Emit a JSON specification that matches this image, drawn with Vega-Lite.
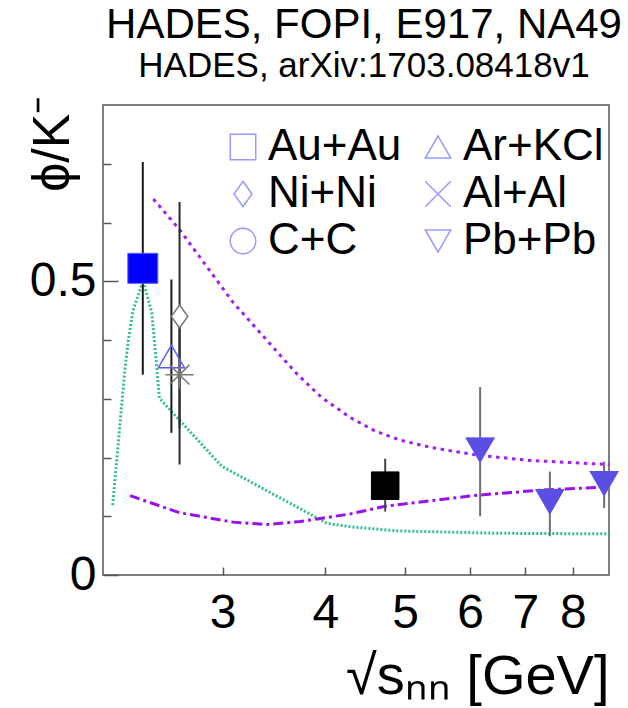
{
  "$schema": "https://vega.github.io/schema/vega-lite/v6.json",
  "width": 506,
  "height": 470,
  "autosize": {"type": "none"},
  "padding": {"left": 103, "top": 105, "right": 19, "bottom": 133},
  "background": "white",
  "config": {"font": "Liberation Sans", "view": {"stroke": "#555555", "strokeWidth": 1.5}},
  "title": {
    "text": "HADES, FOPI, E917, NA49",
    "subtitle": "HADES, arXiv:1703.08418v1",
    "fontSize": 42,
    "subtitleFontSize": 35,
    "font": "Liberation Sans",
    "subtitleFont": "Liberation Sans",
    "fontWeight": "normal",
    "color": "#000000",
    "subtitleColor": "#000000",
    "anchor": "middle",
    "frame": "group",
    "offset": 10,
    "subtitlePadding": 2,
    "dx": 8
  },
  "datasets": {
    "points": [
      {"series": "HADES Au+Au", "experiment": "HADES", "system": "Au+Au", "x": 2.40, "y": 0.522, "lo": 0.341, "hi": 0.703},
      {"series": "HADES Ar+KCl", "experiment": "HADES", "system": "Ar+KCl", "x": 2.60, "y": 0.372, "lo": 0.242, "hi": 0.503},
      {"series": "FOPI Ni+Ni", "experiment": "FOPI", "system": "Ni+Ni", "x": 2.66, "y": 0.44, "lo": 0.188, "hi": 0.635},
      {"series": "FOPI Al+Al", "experiment": "FOPI", "system": "Al+Al", "x": 2.66, "y": 0.341, "lo": 0.25, "hi": 0.43},
      {"series": "E917 Au+Au", "experiment": "E917", "system": "Au+Au", "x": 4.73, "y": 0.152, "lo": 0.108, "hi": 0.198},
      {"series": "NA49 Pb+Pb", "experiment": "NA49", "system": "Pb+Pb", "x": 6.17, "y": 0.213, "lo": 0.10, "hi": 0.32},
      {"series": "NA49 Pb+Pb", "experiment": "NA49", "system": "Pb+Pb", "x": 7.5, "y": 0.125, "lo": 0.066, "hi": 0.176},
      {"series": "NA49 Pb+Pb", "experiment": "NA49", "system": "Pb+Pb", "x": 8.73, "y": 0.156, "lo": 0.114, "hi": 0.193}
    ],
    "curves": [
      {"curve": "model 1", "x": 2.206, "y": 0.119},
      {"curve": "model 1", "x": 2.283, "y": 0.35},
      {"curve": "model 1", "x": 2.305, "y": 0.40},
      {"curve": "model 1", "x": 2.335, "y": 0.45},
      {"curve": "model 1", "x": 2.402, "y": 0.501},
      {"curve": "model 1", "x": 2.461, "y": 0.447},
      {"curve": "model 1", "x": 2.495, "y": 0.355},
      {"curve": "model 1", "x": 2.514, "y": 0.301},
      {"curve": "model 1", "x": 2.994, "y": 0.185},
      {"curve": "model 1", "x": 4.02, "y": 0.088},
      {"curve": "model 1", "x": 4.29, "y": 0.082},
      {"curve": "model 1", "x": 4.91, "y": 0.075},
      {"curve": "model 1", "x": 6.5, "y": 0.071},
      {"curve": "model 1", "x": 8.85, "y": 0.070},
      {"curve": "model 2", "x": 2.472, "y": 0.640},
      {"curve": "model 2", "x": 2.66, "y": 0.588},
      {"curve": "model 2", "x": 3.09, "y": 0.464},
      {"curve": "model 2", "x": 3.69, "y": 0.343},
      {"curve": "model 2", "x": 3.96, "y": 0.302},
      {"curve": "model 2", "x": 4.29, "y": 0.268},
      {"curve": "model 2", "x": 4.6, "y": 0.245},
      {"curve": "model 2", "x": 4.95, "y": 0.229},
      {"curve": "model 2", "x": 5.38, "y": 0.217},
      {"curve": "model 2", "x": 6.12, "y": 0.204},
      {"curve": "model 2", "x": 7.09, "y": 0.195},
      {"curve": "model 2", "x": 8.85, "y": 0.188},
      {"curve": "model 3", "x": 2.316, "y": 0.135},
      {"curve": "model 3", "x": 2.66, "y": 0.106},
      {"curve": "model 3", "x": 3.09, "y": 0.090},
      {"curve": "model 3", "x": 3.396, "y": 0.086},
      {"curve": "model 3", "x": 3.73, "y": 0.091},
      {"curve": "model 3", "x": 4.29, "y": 0.104},
      {"curve": "model 3", "x": 4.73, "y": 0.117},
      {"curve": "model 3", "x": 6.14, "y": 0.136},
      {"curve": "model 3", "x": 7.42, "y": 0.145},
      {"curve": "model 3", "x": 8.85, "y": 0.150}
    ]
  },
  "layer": [
    {
      "data": {"name": "curves"},
      "mark": {"type": "line", "strokeWidth": 3, "strokeCap": "butt"},
      "encoding": {
        "x": {
          "field": "x", "type": "quantitative",
          "scale": {"type": "log", "domain": [2.147, 8.85], "nice": false, "zero": false},
          "axis": {
            "values": [3, 4, 5, 6, 7, 8],
            "format": "d",
            "labelFontSize": 48,
            "labelFont": "Liberation Sans",
            "labelColor": "#000000",
            "labelOverlap": false,
            "labelFlush": false,
            "tickSize": -8,
            "tickColor": "#555555",
            "tickWidth": 1.5,
            "domain": false,
            "grid": false,
            "labelPadding": 60,
            "labelBaseline": "alphabetic",
            "title": "√sₙₙ [GeV]",
            "titleFontSize": 56,
            "titleFont": "Liberation Sans",
            "titleFontWeight": "normal",
            "titleColor": "#000000",
            "titleAnchor": "end",
            "titleAlign": "right",
            "titleBaseline": "alphabetic",
            "titleX": 506,
            "titleY": 118
          }
        },
        "y": {
          "field": "y", "type": "quantitative",
          "scale": {"domain": [0, 0.8], "nice": false},
          "axis": {
            "values": [0, 0.1, 0.2, 0.3, 0.4, 0.5, 0.6, 0.7],
            "format": "~g",
            "labelExpr": "datum.value == 0 || datum.value == 0.5 ? datum.label : ''",
            "labelFontSize": 48,
            "labelFont": "Liberation Sans",
            "labelColor": "#000000",
            "labelBaseline": "middle",
            "labelFlush": false,
            "labelOverlap": false,
            "tickSize": {"condition": {"test": "datum.value == 0 || datum.value == 0.5", "value": -15}, "value": -8},
            "tickColor": "#555555",
            "tickWidth": 1.5,
            "domain": false,
            "grid": false,
            "labelPadding": 22,
            "title": "ϕ/K⁻",
            "titleFontSize": 52,
            "titleFont": "Liberation Sans",
            "titleFontWeight": "normal",
            "titleColor": "#000000",
            "titleAngle": -90,
            "titleAlign": "right",
            "titleAnchor": "end",
            "titleBaseline": "alphabetic",
            "titleX": -35,
            "titleY": -10
          }
        },
        "color": {
          "field": "curve", "type": "nominal",
          "scale": {"domain": ["model 1", "model 2", "model 3"], "range": ["#2fbf8f", "#a21ff2", "#9a10ee"]},
          "legend": null
        },
        "strokeDash": {
          "field": "curve", "type": "nominal",
          "scale": {"domain": ["model 1", "model 2", "model 3"], "range": [[2, 2], [3.5, 4.5], [10, 4, 3, 4]]},
          "legend": null
        }
      }
    },
    {
      "data": {"name": "points"},
      "mark": {"type": "rule", "strokeWidth": 2},
      "encoding": {
        "x": {"field": "x", "type": "quantitative"},
        "y": {"field": "lo", "type": "quantitative"},
        "y2": {"field": "hi"},
        "stroke": {
          "field": "experiment", "type": "nominal",
          "scale": {"domain": ["HADES", "FOPI", "E917", "NA49"], "range": ["#1a1a1a", "#2a2a2a", "#444444", "#707070"]},
          "legend": null
        }
      }
    },
    {
      "data": {"name": "points"},
      "transform": [{"filter": "datum.series == 'HADES Au+Au'"}],
      "mark": {"type": "point", "shape": "square", "size": 900, "filled": true, "fill": "#0000ff", "stroke": "#5a5aff", "strokeWidth": 1, "opacity": 1},
      "encoding": {
        "x": {"field": "x", "type": "quantitative"},
        "y": {"field": "y", "type": "quantitative"}
      }
    },
    {
      "data": {"name": "points"},
      "transform": [{"filter": "datum.series == 'HADES Ar+KCl'"}],
      "mark": {"type": "point", "shape": "triangle-up", "size": 680, "filled": false, "fill": "transparent", "stroke": "#5a5aff", "strokeWidth": 1.5, "opacity": 1},
      "encoding": {
        "x": {"field": "x", "type": "quantitative"},
        "y": {"field": "y", "type": "quantitative"}
      }
    },
    {
      "data": {"name": "points"},
      "transform": [{"filter": "datum.series == 'FOPI Ni+Ni'"}],
      "mark": {"type": "point", "shape": "M0,-1L0.72,0L0,1L-0.72,0Z", "size": 529, "filled": true, "fill": "#ffffff", "stroke": "#777777", "strokeWidth": 1.5, "opacity": 1},
      "encoding": {
        "x": {"field": "x", "type": "quantitative"},
        "y": {"field": "y", "type": "quantitative"}
      }
    },
    {
      "data": {"name": "points"},
      "transform": [{"filter": "datum.series == 'FOPI Al+Al'"}],
      "mark": {"type": "point", "shape": "M-1,0L1,0M0,-1L0,1M-0.7,-0.7L0.7,0.7M-0.7,0.7L0.7,-0.7", "size": 784, "filled": false, "stroke": "#777777", "strokeWidth": 1.5, "opacity": 1},
      "encoding": {
        "x": {"field": "x", "type": "quantitative"},
        "y": {"field": "y", "type": "quantitative"}
      }
    },
    {
      "data": {"name": "points"},
      "transform": [{"filter": "datum.series == 'E917 Au+Au'"}],
      "mark": {"type": "point", "shape": "square", "size": 760, "filled": true, "fill": "#000000", "stroke": "#000000", "strokeWidth": 1, "opacity": 1},
      "encoding": {
        "x": {"field": "x", "type": "quantitative"},
        "y": {"field": "y", "type": "quantitative"}
      }
    },
    {
      "data": {"name": "points"},
      "transform": [{"filter": "datum.series == 'NA49 Pb+Pb'"}],
      "mark": {"type": "point", "size": 729, "filled": false, "color": "#9999ff", "strokeWidth": 1.5, "opacity": 1},
      "encoding": {
        "x": {"field": "x", "type": "quantitative"},
        "y": {"field": "y", "type": "quantitative"},
        "shape": {
          "field": "system", "type": "nominal",
          "scale": {
            "domain": ["Au+Au", "Ni+Ni", "C+C", "Ar+KCl", "Al+Al", "Pb+Pb"],
            "range": ["square", "M0,-1L0.7,0L0,1L-0.7,0Z", "circle", "triangle-up", "M-1,-1L1,1M-1,1L1,-1", "triangle-down"]
          },
          "legend": {
            "orient": "none",
            "legendX": 118,
            "legendY": 20,
            "columns": 2,
            "title": null,
            "labelFontSize": 44,
            "labelFont": "Liberation Sans",
            "labelColor": "#000000",
            "labelLimit": 300,
            "symbolSize": 650,
            "symbolStrokeWidth": 1.5,
            "labelOffset": 3,
            "columnPadding": 14,
            "rowPadding": 3,
            "padding": 0
          }
        }
      }
    },
    {
      "data": {"name": "points"},
      "transform": [{"filter": "datum.series == 'NA49 Pb+Pb'"}],
      "mark": {"type": "point", "shape": "triangle-down", "size": 729, "filled": true, "fill": "#5b4ee3", "stroke": "#5b4ee3", "strokeWidth": 1.5, "opacity": 1},
      "encoding": {
        "x": {"field": "x", "type": "quantitative"},
        "y": {"field": "y", "type": "quantitative"}
      }
    }
  ]
}
